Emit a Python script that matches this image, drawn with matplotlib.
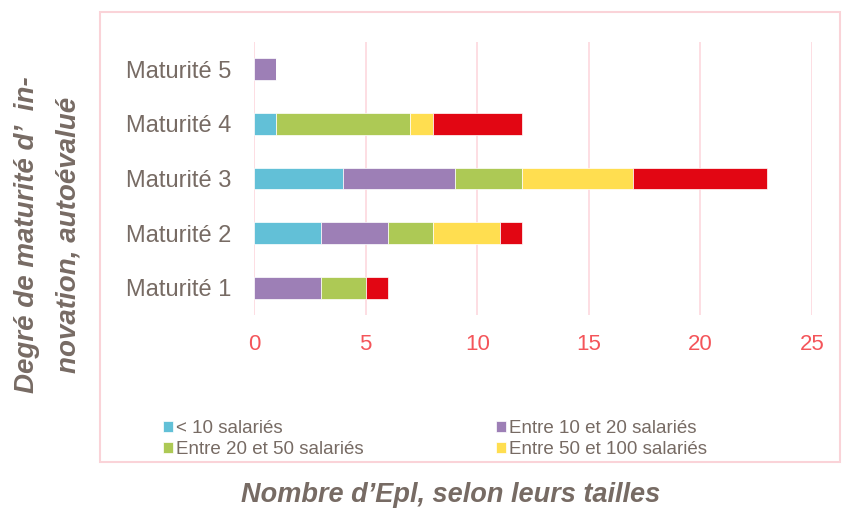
import matplotlib.pyplot as plt
from matplotlib.patches import Rectangle
import numpy as np

plt.rcParams['font.family'] = ['Liberation Sans', 'DejaVu Sans']

# données
categories = ['Maturité 1', 'Maturité 2', 'Maturité 3', 'Maturité 4', 'Maturité 5']
moins_10 = [0, 3, 4, 1, 0]
de_10_a_20 = [3, 3, 5, 0, 1]
de_20_a_50 = [2, 2, 3, 6, 0]
de_50_a_100 = [0, 3, 5, 1, 0]
plus_100 = [1, 1, 6, 4, 0]
series_names = ['< 10 salariés', 'Entre 10 et 20 salariés', 'Entre 20 et 50 salariés',
                'Entre 50 et 100 salariés', 'Plus de 100 salariés']
colors = ['#62C0D7', '#9D7FB6', '#ADC955', '#FFDE50', '#E20613']
xticks = [0, 5, 10, 15, 20, 25]

txt = '#776B64'
fig = plt.figure(figsize=(8.43, 5.08), dpi=100)
ax = fig.add_axes([254/843, 1-315/508, (812-254)/843, (315-42)/508])

# cadre rose autour du graphique
fig.patches.append(Rectangle((100/843, 1-462/508), 740/843, 450/508, transform=fig.transFigure,
                             fill=False, edgecolor='#FAD3D8', linewidth=1.5))

y = np.arange(len(categories))
left = np.zeros(len(categories))
bars = []
for vals, name, c in zip([moins_10, de_10_a_20, de_20_a_50, de_50_a_100, plus_100], series_names, colors):
    b = ax.barh(y, vals, left=left, height=0.4, color=c, label=name, edgecolor='white', linewidth=0.5)
    bars.append(b)
    left += np.array(vals)

ax.set_xlim(0, 25)
ax.set_ylim(-0.5, 4.5)
ax.set_xticks(xticks)
ax.set_yticks(y)
ax.set_yticklabels(categories)
ax.grid(axis='x', color='#FDD8DE', linewidth=1.2)
ax.set_axisbelow(True)
for s in ax.spines.values():
    s.set_visible(False)
ax.tick_params(axis='x', length=0, labelsize=16, colors='#F4555A', pad=14)
ax.tick_params(axis='y', length=0, labelsize=17, labelcolor=txt, pad=16)

fig.text(48/843, 1-235/508, 'Degré de maturité d’  in-\nnovation, autoévalué', rotation=90,
         ha='center', va='center', fontsize=20, fontweight='bold', style='italic', color=txt,
         linespacing=1.75)
fig.text(451/843, 1-495/508, 'Nombre d’Epl, selon leurs tailles', ha='center', va='center',
         fontsize=19.5, fontweight='bold', style='italic', color=txt)

handles = [bars[0], bars[2], bars[1], bars[3]]
labels = [series_names[0], series_names[2], series_names[1], series_names[3]]
leg = fig.legend(handles, labels, ncol=2, loc='center left', bbox_to_anchor=(163/843, 1-439/508),
                 frameon=False, fontsize=13.5, handlelength=0.55, handleheight=0.55, handletextpad=0.15,
                 columnspacing=7.05, labelspacing=0.2, borderaxespad=0, borderpad=0)
for t in leg.get_texts():
    t.set_color(txt)

fig.savefig('out.png', dpi=100)
